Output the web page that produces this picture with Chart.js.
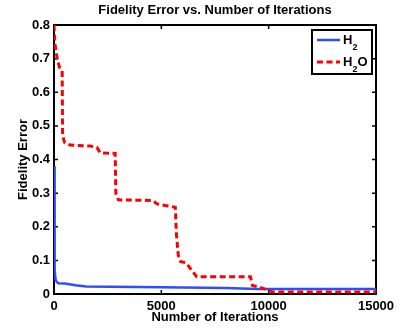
<!DOCTYPE html>
<html>
<head>
<meta charset="utf-8">
<script src="https://cdn.jsdelivr.net/npm/chart.js@4/dist/chart.umd.min.js"></script>
<style>
html,body{margin:0;padding:0;background:#fff;}
#wrap{width:415px;height:331px;position:relative;}
</style>
</head>
<body>
<div id="wrap"><canvas id="c"></canvas></div>
<script>
// ---- data ----
const seriesLabels = ['H\u2082', 'H\u2082O'];
const h2Iter = [0, 15, 30, 45, 80, 200, 500, 1000, 1500, 5000, 8000, 9500, 15000];
const h2Err  = [0.38, 0.30, 0.15, 0.07, 0.04, 0.032, 0.031, 0.026, 0.022, 0.02, 0.018, 0.015, 0.015];
const h2oIter = [0, 40, 150, 250, 380, 400, 500, 750, 1700, 2000, 2150, 2850, 2880, 3000, 4600, 4800, 5300, 5650, 5700, 5790, 5900, 6150, 6400, 6650, 9150, 9250, 9600, 10000, 10200, 15000];
const h2oErr  = [0.80, 0.745, 0.70, 0.675, 0.665, 0.47, 0.45, 0.443, 0.44, 0.436, 0.42, 0.418, 0.30, 0.28, 0.278, 0.268, 0.262, 0.258, 0.18, 0.115, 0.096, 0.093, 0.072, 0.051, 0.051, 0.025, 0.02, 0.01, 0.006, 0.006];
const xTickLabels = ['0', '5000', '10000', '15000'];
const yTickLabels = ['0', '0.1', '0.2', '0.3', '0.4', '0.5', '0.6', '0.7', '0.8'];

const toPts = (xs, ys) => xs.map((x, i) => ({x: x, y: ys[i]}));
const FONT = '"Liberation Sans", Arial, Helvetica, sans-serif';
const BLUE = '#2d4dff';
const RED = '#ff0000';

const framePlugin = {
  id: 'frame',
  beforeDatasetsDraw(chart) {
    const {ctx, chartArea: a, scales} = chart;
    ctx.save();
    ctx.strokeStyle = '#000';
    ctx.lineWidth = 2;
    ctx.strokeRect(a.left, a.top, a.right - a.left, a.bottom - a.top);
    const tl = 4;
    ctx.lineWidth = 1.5;
    ctx.beginPath();
    scales.x.ticks.forEach(t => {
      const px = scales.x.getPixelForValue(t.value);
      ctx.moveTo(px, a.bottom); ctx.lineTo(px, a.bottom - tl);
      ctx.moveTo(px, a.top); ctx.lineTo(px, a.top + tl);
    });
    scales.y.ticks.forEach(t => {
      const py = scales.y.getPixelForValue(t.value);
      ctx.moveTo(a.left, py); ctx.lineTo(a.left + tl, py);
      ctx.moveTo(a.right, py); ctx.lineTo(a.right - tl, py);
    });
    ctx.stroke();
    ctx.restore();
  },
  afterDraw(chart) {
    const {ctx, chartArea: a} = chart;
    const ds = chart.data.datasets;
    const bx = a.right - 64, by = a.top + 5, bw = 60, bh = 44;
    ctx.save();
    ctx.fillStyle = '#fff';
    ctx.fillRect(bx, by, bw, bh);
    ctx.strokeStyle = '#000';
    ctx.lineWidth = 2;
    ctx.strokeRect(bx, by, bw, bh);
    const rows = [by + 10, by + 32];
    ds.forEach((d, i) => {
      const y = rows[i];
      ctx.beginPath();
      ctx.strokeStyle = d.borderColor;
      ctx.lineWidth = d.borderWidth;
      ctx.setLineDash(d.borderDash || []);
      ctx.moveTo(bx + 5, y); ctx.lineTo(bx + 28, y);
      ctx.stroke();
      ctx.setLineDash([]);
      // text with subscript digits
      const label = d.label;
      let x = bx + 31;
      ctx.fillStyle = '#000';
      ctx.textBaseline = 'alphabetic';
      ctx.textAlign = 'left';
      for (const ch of label) {
        if (ch === '\u2082') {
          ctx.font = 'bold 9px ' + FONT;
          ctx.fillText('2', x, y + 10);
          x += ctx.measureText('2').width;
        } else {
          ctx.font = 'bold 13px ' + FONT;
          ctx.fillText(ch, x, y + 4);
          x += ctx.measureText(ch).width;
        }
      }
    });
    ctx.restore();
  }
};

new Chart(document.getElementById('c'), {
  type: 'line',
  data: {
    datasets: [
      {
        label: seriesLabels[0],
        data: toPts(h2Iter, h2Err),
        borderColor: BLUE,
        borderWidth: 2.5,
        pointRadius: 0,
        tension: 0,
        fill: false,
        order: 1
      },
      {
        label: seriesLabels[1],
        data: toPts(h2oIter, h2oErr),
        borderColor: RED,
        borderWidth: 3,
        borderDash: [6, 3.5],
        pointRadius: 0,
        tension: 0,
        fill: false,
        order: 0
      }
    ]
  },
  options: {
    responsive: true,
    maintainAspectRatio: false,
    devicePixelRatio: 1,
    animation: false,
    layout: {padding: {left: 0, right: 39, top: 0, bottom: 0}},
    plugins: {
      legend: {display: false},
      tooltip: {enabled: false},
      title: {
        display: true,
        fullSize: false,
        text: 'Fidelity Error vs. Number of Iterations',
        color: '#000',
        font: {family: FONT, size: 13, weight: 'bold', lineHeight: 1.2},
        padding: {top: 2.5, bottom: 6.9}
      }
    },
    scales: {
      x: {
        type: 'linear',
        min: 0, max: 15000,
        grid: {display: false, drawTicks: false},
        border: {display: false},
        ticks: {
          stepSize: 5000,
          padding: 5,
          color: '#000',
          maxRotation: 0,
          font: {family: FONT, size: 13, weight: 'bold'},
          callback: (v, i) => xTickLabels[i]
        },
        title: {
          display: true,
          text: 'Number of Iterations',
          color: '#000',
          font: {family: FONT, size: 13, weight: 'bold', lineHeight: 1.2},
          padding: {top: 0, bottom: 5.5}
        },
        afterFit: (s) => { s.height = 37; }
      },
      y: {
        type: 'linear',
        min: 0, max: 0.8,
        grid: {display: false, drawTicks: false},
        border: {display: false},
        ticks: {
          stepSize: 0.1,
          padding: 4,
          color: '#000',
          font: {family: FONT, size: 13, weight: 'bold'},
          callback: (v, i) => yTickLabels[i]
        },
        title: {
          display: true,
          text: 'Fidelity Error',
          color: '#000',
          font: {family: FONT, size: 13, weight: 'bold', lineHeight: 1.2},
          padding: {top: 15.2, bottom: 0}
        },
        afterFit: (s) => { s.width = 54; }
      }
    }
  },
  plugins: [framePlugin]
});
</script>
</body>
</html>
